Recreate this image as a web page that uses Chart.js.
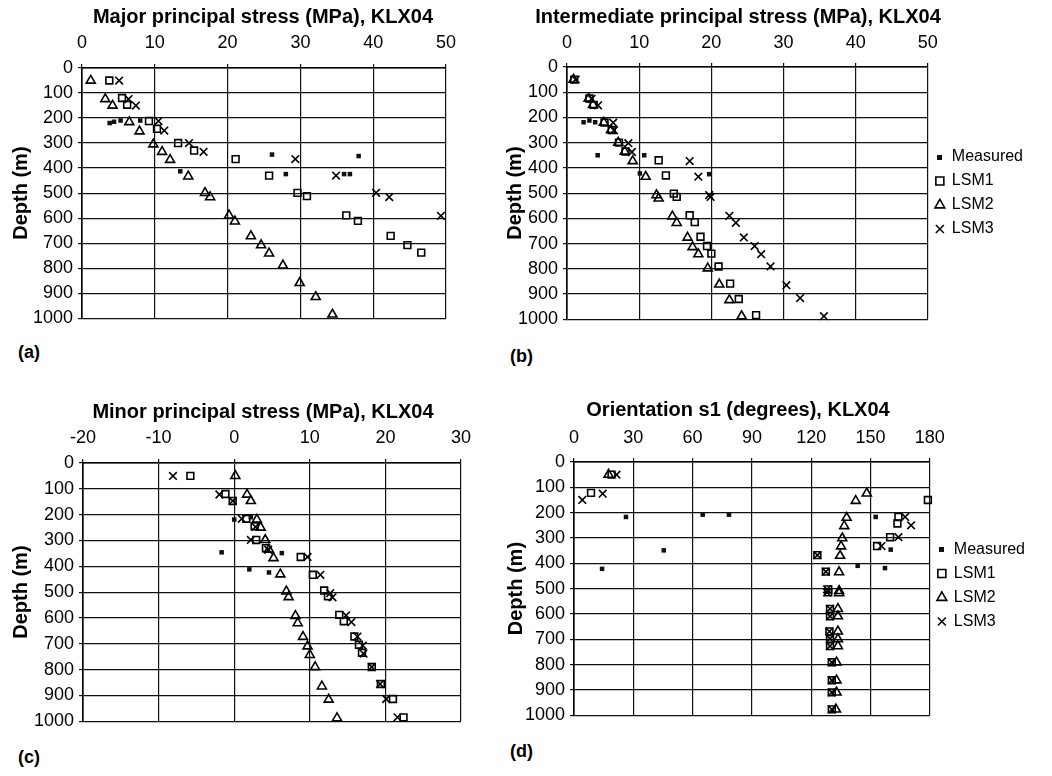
<!DOCTYPE html>
<html><head><meta charset="utf-8">
<script src="https://cdn.jsdelivr.net/npm/chart.js@4.4.1/dist/chart.umd.min.js"></script>
<style>
body{margin:0;background:#fff;width:1052px;height:776px;position:relative;overflow:hidden;font-family:"Liberation Sans",Arial,sans-serif}
canvas{position:absolute}
.lab{position:absolute;font-weight:bold;font-size:18px;line-height:20px;color:#000}
</style></head><body>
<canvas id="ca" width="526" height="334" style="left:0px;top:0px"></canvas>
<canvas id="cb" width="590" height="335" style="left:443px;top:0px"></canvas>
<canvas id="cc" width="526" height="342" style="left:0px;top:395px"></canvas>
<canvas id="cd" width="594" height="338" style="left:441px;top:393px"></canvas>
<div class="lab" style="left:18px;top:342px">(a)</div>
<div class="lab" style="left:510px;top:346px">(b)</div>
<div class="lab" style="left:18px;top:747px">(c)</div>
<div class="lab" style="left:510px;top:741px">(d)</div>
<script>
// ---------- Data ----------
const seriesNames = ['Measured', 'LSM1', 'LSM2', 'LSM3'];
const depthTicks = [0, 100, 200, 300, 400, 500, 600, 700, 800, 900, 1000];

// (a) Major principal stress (MPa)
const aMeasDepth = [220, 215, 210, 210, 413, 346, 424, 424, 424, 352];
const aMeas      = [3.8, 4.4, 5.3, 8.0, 13.5, 26.1, 28.0, 36.0, 36.8, 38.0];
const aLSM1Depth = [50, 120, 147, 212, 243, 300, 330, 364, 430, 499, 512, 589, 611, 671, 708, 738];
const aLSM1      = [3.75, 5.5, 6.2, 9.2, 10.3, 13.2, 15.4, 21.1, 25.7, 29.6, 30.9, 36.3, 37.9, 42.4, 44.7, 46.6];
const aLSM2Depth = [50, 124, 150, 216, 253, 305, 335, 367, 433, 499, 516, 589, 613, 672, 708, 741, 789, 859, 915, 985];
const aLSM2      = [1.2, 3.2, 4.2, 6.5, 7.9, 9.8, 11.0, 12.1, 14.6, 16.9, 17.6, 20.2, 21.0, 23.2, 24.6, 25.7, 27.6, 29.9, 32.1, 34.4];
const aLSM3Depth = [50, 124, 150, 212, 250, 300, 335, 364, 430, 499, 516, 591];
const aLSM3      = [5.1, 6.4, 7.4, 10.5, 11.3, 14.7, 16.7, 29.3, 34.9, 40.4, 42.2, 49.3];

// (b) Intermediate principal stress (MPa)
const bMeasDepth = [219, 212, 219, 350, 350, 422, 425];
const bMeas      = [2.3, 3.1, 3.9, 4.25, 10.7, 10.1, 19.7];
const bLSM1Depth = [50, 125, 150, 220, 250, 300, 335, 370, 430, 502, 515, 588, 615, 673, 710, 740, 791, 859, 920, 984];
const bLSM1      = [1.0, 3.1, 3.7, 5.2, 6.2, 7.2, 8.1, 12.7, 13.7, 14.8, 15.2, 17.0, 17.7, 18.5, 19.4, 20.0, 21.0, 22.6, 23.8, 26.2];
const bLSM2Depth = [50, 125, 150, 220, 250, 300, 335, 373, 435, 508, 521, 592, 618, 676, 714, 742, 798, 862, 924, 988];
const bLSM2      = [0.9, 3.0, 3.6, 5.1, 6.1, 7.1, 8.0, 9.1, 10.9, 12.4, 12.7, 14.6, 15.2, 16.7, 17.4, 18.2, 19.5, 21.1, 22.5, 24.2];
const bLSM3Depth = [50, 126, 152, 221, 251, 302, 337, 373, 435, 508, 515, 590, 618, 676, 710, 742, 791, 865, 916, 988];
const bLSM3      = [1.2, 3.4, 4.3, 6.4, 6.5, 8.5, 9.0, 17.0, 18.2, 19.7, 19.9, 22.5, 23.4, 24.5, 26.0, 26.9, 28.2, 30.4, 32.3, 35.6];

// (c) Minor principal stress (MPa)
const cMeasDepth = [219, 210, 346, 349, 412, 424];
const cMeas      = [0.0, 2.2, -1.66, 6.3, 2.0, 4.6];
const cLSM1Depth = [50, 120, 147, 216, 245, 298, 330, 364, 433, 494, 516, 588, 613, 672, 704, 735, 790, 856, 914, 985];
const cLSM1      = [-5.8, -1.16, -0.2, 1.6, 2.7, 2.9, 4.2, 8.8, 10.4, 11.9, 12.4, 13.9, 14.5, 15.9, 16.5, 16.9, 18.2, 19.4, 21.0, 22.4];
const cLSM2Depth = [50, 122, 147, 219, 250, 298, 335, 368, 431, 497, 519, 592, 620, 673, 710, 743, 790, 865, 916, 988];
const cLSM2      = [0.15, 1.7, 2.2, 3.0, 3.5, 4.1, 4.6, 5.2, 6.1, 6.9, 7.2, 8.1, 8.4, 9.1, 9.7, 10.0, 10.7, 11.6, 12.5, 13.6];
const cLSM3Depth = [50, 122, 147, 216, 247, 298, 336, 364, 433, 504, 520, 590, 616, 672, 707, 738, 790, 856, 914, 985];
const cLSM3      = [-8.1, -1.96, -0.2, 1.0, 2.8, 2.2, 4.5, 9.7, 11.4, 12.7, 13.0, 14.8, 15.5, 16.3, 17.0, 17.1, 18.2, 19.3, 20.1, 21.6];

// (d) Orientation s1 (degrees)
const dMeasDepth = [217, 208, 208, 349, 422, 410, 217, 419, 346];
const dMeas      = [26.3, 65.1, 78.4, 45.4, 14.2, 143.5, 152.6, 157.3, 160.2];
const dLSM1Depth = [50, 122, 150, 217, 243, 297, 332, 368, 433, 503, 515, 580, 609, 669, 699, 727, 791, 862, 910, 977];
const dLSM1      = [19.0, 8.6, 179.0, 164.1, 163.6, 159.9, 153.3, 123.1, 127.4, 128.6, 128.6, 129.5, 129.5, 129.2, 129.5, 129.5, 130.4, 130.4, 130.4, 130.4];
const dLSM2Depth = [50, 124, 153, 220, 253, 301, 333, 370, 435, 509, 518, 580, 609, 669, 699, 727, 791, 862, 910, 977];
const dLSM2      = [17.5, 148.1, 142.5, 137.9, 136.7, 135.7, 135.1, 134.6, 134.1, 134.1, 134.1, 133.5, 133.5, 133.5, 133.5, 133.5, 132.8, 132.8, 132.8, 132.5];
const dLSM3Depth = [50, 125, 150, 217, 250, 297, 332, 368, 433, 503, 515, 580, 609, 669, 699, 727, 791, 862, 910, 977];
const dLSM3      = [21.5, 14.5, 4.2, 167.5, 170.5, 164.1, 155.5, 123.1, 127.4, 128.0, 128.0, 129.5, 129.5, 129.2, 129.5, 129.5, 130.4, 130.4, 130.4, 130.4];

// ---------- Rendering ----------
Chart.defaults.font.family = '"Liberation Sans", Arial, sans-serif';
Chart.defaults.color = '#000';

function pts(xs, ds) { return xs.map((v, i) => ({x: v, y: ds[i]})); }

const measMark = document.createElement('canvas');
measMark.width = 5; measMark.height = 5;
(function(){ const c = measMark.getContext('2d'); c.fillStyle = '#111'; c.fillRect(0, 0, 5, 5); })();

function makePanel(id, p) {
  const open = 'rgba(0,0,0,0)';
  const datasets = [
    {label: seriesNames[0], data: pts(p.meas, p.measD), pointStyle: 'rect', pointRadius: 3.2,
     backgroundColor: '#111', borderColor: '#111', borderWidth: 0, pointBackgroundColor: '#111', pointBorderWidth: 0},
    {label: seriesNames[1], data: pts(p.l1, p.l1D), pointStyle: 'rect', pointRadius: 4.8,
     backgroundColor: open, borderColor: '#000', borderWidth: 1.6, pointBackgroundColor: open, pointBorderColor: '#000', pointBorderWidth: 1.6},
    {label: seriesNames[2], data: pts(p.l2, p.l2D), pointStyle: 'triangle', pointRadius: 5.2,
     backgroundColor: open, borderColor: '#000', borderWidth: 1.6, pointBackgroundColor: open, pointBorderColor: '#000', pointBorderWidth: 1.6},
    {label: seriesNames[3], data: pts(p.l3, p.l3D), pointStyle: 'crossRot', pointRadius: 5.4,
     backgroundColor: open, borderColor: '#000', borderWidth: 1.6, pointBorderColor: '#000', pointBorderWidth: 1.6}
  ];
  const gridC = '#111';
  const scales = {
    x: {type: 'linear', position: 'top', min: p.xMin, max: p.xMax,
        ticks: {stepSize: p.xStep, font: {size: 18}, color: '#000', padding: p.xPad, callback: v => String(v)},
        grid: {color: gridC, lineWidth: 1.2, tickLength: 4},
        border: {color: '#000', width: 1.6},
        afterFit: s => { s.height = p.xH; }},
    y: {type: 'linear', position: 'left', reverse: true, min: 0, max: 1000,
        afterBuildTicks: s => { s.ticks = depthTicks.map(v => ({value: v})); },
        ticks: {font: {size: 18}, color: '#000', padding: 5, callback: v => String(v)},
        grid: {color: gridC, lineWidth: 1.2, tickLength: 4},
        border: {color: '#000', width: 1.6},
        title: {display: true, text: 'Depth (m)', font: {size: 20, weight: 'bold'}, color: '#000', padding: {top: p.ytPad, bottom: 0}},
        afterFit: s => { s.width = p.yW; }}
  };
  if (p.rW) {
    scales.r = {type: 'linear', position: 'right', display: true,
      ticks: {display: false}, grid: {display: false, drawTicks: false}, border: {display: false},
      afterFit: s => { s.width = p.rW; }};
  }
  new Chart(document.getElementById(id), {
    type: 'scatter',
    data: {datasets},
    options: {
      responsive: false, animation: false, clip: false,
      layout: {padding: {left: 0, right: 0, top: 0, bottom: p.padB}},
      scales,
      plugins: {
        title: {display: true, text: p.title, font: {size: 20, weight: 'bold'}, color: '#000', padding: {top: 5, bottom: 2}},
        legend: p.legend ? {
          display: true, position: 'right', align: 'center',
          title: {display: true, text: '', font: {size: 10}, padding: {top: p.legShift, bottom: 0}},
          labels: {usePointStyle: true, boxWidth: 8, boxHeight: 8, padding: 8, font: {size: 16}, color: '#000',
            generateLabels: chart => {
              const items = Chart.defaults.plugins.legend.labels.generateLabels(chart);
              items[0].pointStyle = measMark;
              return items;
            }}
        } : {display: false},
        tooltip: {enabled: false}
      }
    }
  });
}

makePanel('ca', {title: 'Major principal stress (MPa), KLX04', xMin: 0, xMax: 50, xStep: 10,
  meas: aMeas, measD: aMeasDepth, l1: aLSM1, l1D: aLSM1Depth, l2: aLSM2, l2D: aLSM2Depth, l3: aLSM3, l3D: aLSM3Depth,
  xH: 37, xPad: 10, yW: 82, ytPad: 9, rW: 80, padB: 14, legend: false});
makePanel('cb', {title: 'Intermediate principal stress (MPa), KLX04', xMin: 0, xMax: 50, xStep: 10,
  meas: bMeas, measD: bMeasDepth, l1: bLSM1, l1D: bLSM1Depth, l2: bLSM2, l2D: bLSM2Depth, l3: bLSM3, l3D: bLSM3Depth,
  xH: 36, xPad: 9, yW: 124, ytPad: 60, rW: 0, padB: 10, legend: true, legShift: 49});
makePanel('cc', {title: 'Minor principal stress (MPa), KLX04', xMin: -20, xMax: 30, xStep: 10,
  meas: cMeas, measD: cMeasDepth, l1: cLSM1, l1D: cLSM1Depth, l2: cLSM2, l2D: cLSM2Depth, l3: cLSM3, l3D: cLSM3Depth,
  xH: 37, xPad: 10, yW: 83, ytPad: 9, rW: 65, padB: 10, legend: false});
makePanel('cd', {title: 'Orientation s1 (degrees), KLX04', xMin: 0, xMax: 180, xStep: 30,
  meas: dMeas, measD: dMeasDepth, l1: dLSM1, l1D: dLSM1Depth, l2: dLSM2, l2D: dLSM2Depth, l3: dLSM3, l3D: dLSM3Depth,
  xH: 38, xPad: 9, yW: 133, ytPad: 63, rW: 0, padB: 10, legend: true, legShift: 45});
</script>
</body></html>
